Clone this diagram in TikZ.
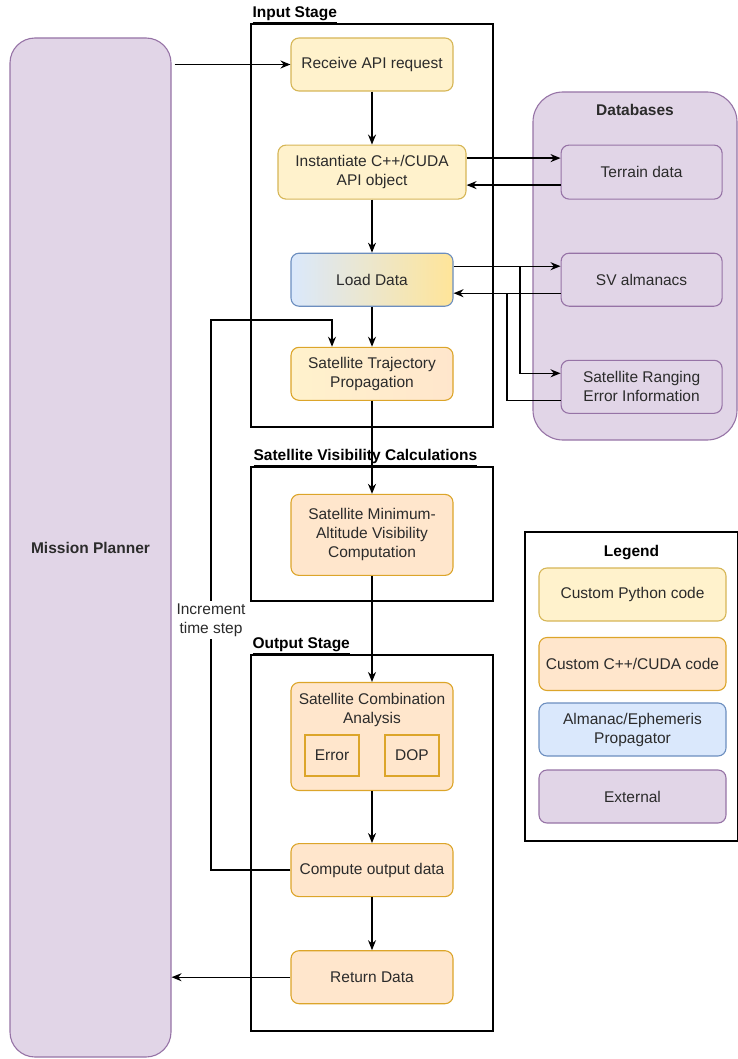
\documentclass[tikz,border=0pt]{standalone}
\usepackage{fontspec}
\setmainfont{Liberation Sans}
\usepackage{tikz}
\usetikzlibrary{%
  arrows.meta, positioning, shapes, calc, backgrounds
}
\usepackage{xcolor}
\definecolor{pyfill}{HTML}{FFF2CC}
\definecolor{pyline}{HTML}{D6B656}
\definecolor{cufill}{HTML}{FFE6CC}
\definecolor{culine}{HTML}{DCA52A}
\definecolor{prfill}{HTML}{DAE8FC}
\definecolor{prline}{HTML}{6C8EBF}
\definecolor{exfill}{HTML}{E1D5E7}
\definecolor{exline}{HTML}{9673A6}
\definecolor{ldright}{HTML}{FFE599}
\definecolor{txtgray}{HTML}{2B2B2B}

\begin{document}
\begin{tikzpicture}[%
    x=1pt, y=-1pt,
    >={Stealth[length=10pt,width=8pt]},
    every node/.style={%
      font=\fontsize{15.5}{19}\selectfont,
      text=txtgray,
      text centered,
      align=center,
      inner sep=2pt
    },
    block/.style={rounded corners=8pt, line width=1.1pt,
      minimum width=162pt, minimum height=53pt},
    python/.style={block, draw=pyline, fill=pyfill},
    cuda/.style={block, draw=culine, fill=cufill},
    ext/.style={block, draw=exline, fill=exfill},
    prop/.style={block, draw=prline, fill=prfill},
    frame/.style={draw=black, line width=1.3pt, inner sep=0pt},
    title/.style={font=\fontsize{15.5}{19}\selectfont\bfseries, text=black},
    link/.style={->, line width=1.4pt, black}
  ]

  \useasboundingbox (0,0) rectangle (738,1059);

  % Stages
  \node[frame, minimum width=242pt, minimum height=403pt] (fin) at (372,225.5) {};
  \node[frame, minimum width=242pt, minimum height=134pt] (fvis) at (372,534) {};
  \node[frame, minimum width=242pt, minimum height=376pt] (fout) at (372,843) {};
  \node[title, anchor=south west, inner sep=1pt] (tin)
    at ([xshift=1pt,yshift=-1pt]fin.north west) {\underline{Input Stage}};
  \node[title, anchor=south west, inner sep=1pt] (tvis)
    at ([xshift=2pt,yshift=-1pt]fvis.north west) {\underline{Satellite Visibility Calculations}};
  \node[title, anchor=south west, inner sep=1pt] (tout)
    at ([xshift=1pt,yshift=-1pt]fout.north west) {\underline{Output Stage}};

  % Mission planner and databases
  \node[ext, rounded corners=25pt, minimum width=161pt, minimum height=1019pt,
    title, text=txtgray] (mp) at (90.5,547.5) {Mission Planner};
  \node[ext, rounded corners=30pt, minimum width=204pt, minimum height=348pt]
    (db) at (635,266) {};
  \node[title, text=txtgray, below=11pt of db.north] (dbt) {Databases};

  % Input stage
  \node[python] (recv) at (372,64.5) {Receive API request};
  \node[python, minimum width=188pt, minimum height=54pt, below=53pt of recv]
    (inst)
    {Instantiate C++/CUDA\\API object};
  \node[prop, left color=prfill, right color=ldright, below=53pt of inst]
    (load)
    {Load Data};
  \node[python, draw=culine, left color=pyfill, right color=cufill, below=40pt of load]
    (traj)
    {Satellite Trajectory\\Propagation};

  \node[ext, minimum width=161pt, minimum height=54pt, right=94pt of inst] (terr) {Terrain data};
  \node[ext, minimum width=161pt, right=107pt of load] (alm) {SV almanacs};
  \node[ext, minimum width=161pt, below=53pt of alm]
    (rng)
    {Satellite Ranging\\Error Information};

  % Visibility and output stages
  \node[cuda, minimum height=81pt, below=93pt of traj]
    (vis)
    {Satellite Minimum-\\Altitude Visibility\\Computation};
  \node[cuda, minimum height=108pt, below=106pt of vis] (comb) {};
  \node[below=9pt of comb.north] (combt) {Satellite Combination\\Analysis};
  \node[draw=culine, fill=cufill, line width=1.1pt, minimum width=54pt, minimum height=41pt]
    (err) at (332,755.5) {Error};
  \node[draw=culine, fill=cufill, line width=1.1pt, minimum width=54pt, minimum height=41pt]
    (dop) at (412,755.5) {DOP};
  \node[cuda, below=52pt of comb] (outp) {Compute output data};
  \node[cuda, below=53pt of outp] (ret) {Return Data};

  % Legend
  \node[frame, minimum width=213pt, minimum height=309pt] (leg) at (631.5,686.5) {};
  \node[title, below=12pt of leg.north] (legt) {Legend};
  \node[python, minimum width=187pt] (lpy) at (632.5,594.5) {Custom Python code};
  \node[cuda, minimum width=187pt] (lcu) at (632.5,664) {Custom C++/CUDA code};
  \node[prop, minimum width=187pt] (lpr) at (632.5,729.5) {Almanac/Ephemeris\\Propagator};
  \node[ext, minimum width=187pt] (lex) at (632.5,796.5) {External};

  % Connectors
  \coordinate (instout) at ([yshift=14pt]inst.east);
  \coordinate (instin) at ([yshift=-13pt]inst.east);
  \coordinate (loadout) at ([yshift=13.5pt]load.east);
  \coordinate (loadin) at ([yshift=-13.5pt]load.east);
  \coordinate (rngin) at ([yshift=13.5pt]rng.west);
  \coordinate (rngout) at ([yshift=-13.5pt]rng.west);
  \coordinate (j1) at (520,0);
  \coordinate (j2) at (507,0);
  \coordinate (loopx) at (211,0);
  \coordinate (looptop) at (332,320);

  \draw[link] ([xshift=3pt]recv.west -| mp.east) -- (recv.west);
  \draw[link] (recv) -- (inst);
  \draw[link] (inst) -- (load);
  \draw[link] (load) -- (traj);
  \draw[link] (instout) -- (instout -| terr.west);
  \draw[link] (instin -| terr.west) -- (instin);
  \draw[link] (loadout) -- (loadout -| alm.west);
  \draw[link] (loadin -| alm.west) -- (loadin);
  \draw[link] (loadout -| j1) |- (rngin);
  \draw[line width=1.4pt] (rngout) -| (loadin -| j2);
  \draw[link] (traj) -- (vis);
  \draw[link] (vis) -- (comb);
  \draw[link] (comb) -- (outp);
  \draw[link] (outp) -- (ret);
  \draw[link] (outp.west) -- (outp.west -| loopx) |- (looptop) -- (looptop |- traj.north);
  \draw[link] (ret.west) -- (ret.west -| mp.east);

  \node[fill=white, inner sep=3pt] (inc) at (211,620) {Increment\\time step};

\end{tikzpicture}
\end{document}
